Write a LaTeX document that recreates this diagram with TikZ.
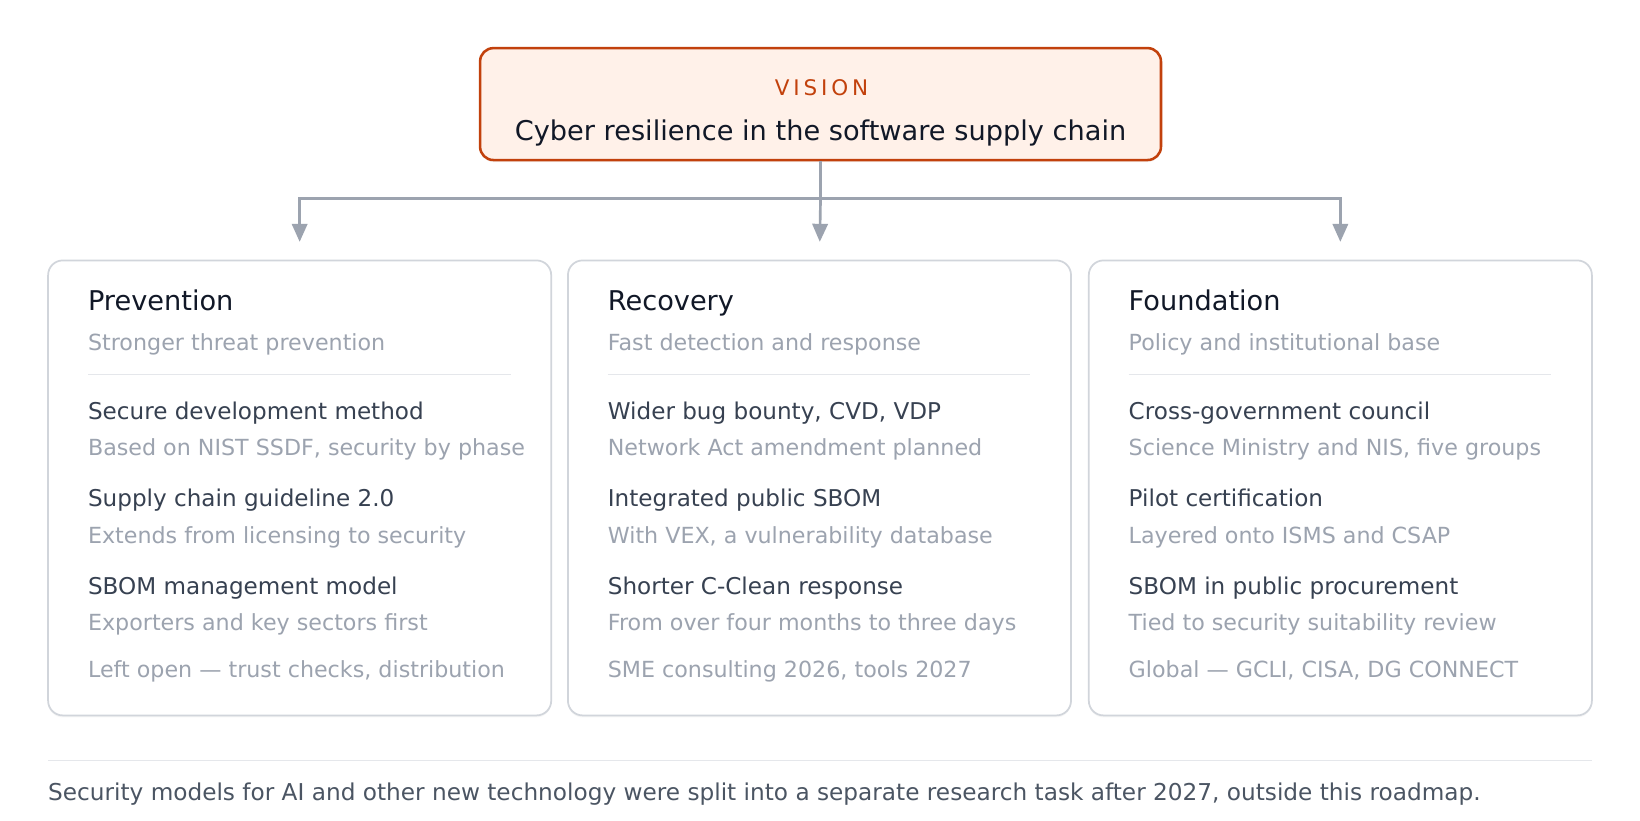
\documentclass[tikz,border=0pt]{standalone}
\usepackage{fontspec}
\setmainfont{DejaVu Sans}
\usetikzlibrary{arrows.meta,shadows}
\definecolor{orng}{HTML}{C2410C}
\definecolor{orngfill}{HTML}{FFF1E9}
\definecolor{ink}{HTML}{111827}
\definecolor{itemc}{HTML}{374151}
\definecolor{subc}{HTML}{9CA3AF}
\definecolor{connc}{HTML}{9CA3AF}
\definecolor{cardb}{HTML}{D1D5DB}
\definecolor{divc}{HTML}{E5E7EB}
\definecolor{footc}{HTML}{4B5563}
\newcommand{\fpx}[1]{\pgfmathsetlengthmacro\fszA{#1*0.75pt}\pgfmathsetlengthmacro\fszB{#1*0.9pt}\fontsize{\fszA}{\fszB}\selectfont}
\begin{document}
\begin{tikzpicture}[x=0.78443pt,y=-0.78443pt,
  visionbox/.style={draw=orng,line width=1.9pt,fill=orngfill,rounded corners=10pt,
     minimum width=651*0.78443pt,minimum height=107*0.78443pt,inner sep=0pt,
     drop shadow={opacity=0.08,shadow xshift=0pt,shadow yshift=-1.5pt}},
  cardbox/.style={draw=cardb,line width=1.3pt,fill=white,rounded corners=11pt,
     minimum width=481*0.78443pt,minimum height=435*0.78443pt,inner sep=0pt,
     drop shadow={opacity=0.07,shadow xshift=0pt,shadow yshift=-1.5pt}},
  conn/.style={draw=connc,line width=2pt},
  arr/.style={conn,-{Triangle[length=13.5pt,width=11.5pt]},shorten >=13.3pt},
  txt/.style={anchor=base west,inner sep=0pt,outer sep=0pt},
  ctitle/.style={txt,text=ink,font=\fpx{27.2}},
  csub/.style={txt,text=subc,font=\fpx{22.2}},
  citem/.style={txt,text=itemc,font=\fpx{23.1}},
  divline/.style={draw=divc,line width=1.1pt},
]
\useasboundingbox (0,0) rectangle (1568,784);
\fill[white] (0,0) rectangle (1568,784);

% vision
\node[visionbox] (vision) at (784.5,99.5) {};
\node[anchor=base,inner sep=0pt,text=orng,font={\fpx{21.5}\addfontfeature{LetterSpace=18}}] (vlabel) at (785.5,91) {VISION};
\node[anchor=base,inner sep=0pt,text=ink,font=\fpx{27.2}] (vtitle) at (784.5,134) {Cyber resilience in the software supply chain};

% cards
\node[cardbox] (c1) at (286.5,466.5) {};
\node[cardbox] (c2) at (783.5,466.5) {};
\node[cardbox] (c3) at (1281.5,466.5) {};

% connectors
\coordinate (j) at (784.5,190);
\draw[conn] (vision.south) -- (j);
\draw[arr] (j) -| (c1.north);
\draw[arr] (j) -- (c2.north);
\draw[arr] (j) -| (c3.north);

% card 1
\node[ctitle] (t1) at ([shift={(39,49)}]c1.north west) {Prevention};
\node[csub] (s1) at ([shift={(39,87)}]c1.north west) {Stronger threat prevention};
\coordinate (d1a) at ([shift={(39,110)}]c1.north west);
\coordinate (d1b) at ([shift={(443,110)}]c1.north west);
\draw[divline] (d1a) -- (d1b);
\node[citem] (i11) at ([shift={(39,153)}]c1.north west) {Secure development method};
\node[csub] (u11) at ([shift={(39,187)}]c1.north west) {Based on NIST SSDF, security by phase};
\node[citem] (i12) at ([shift={(39,236)}]c1.north west) {Supply chain guideline 2.0};
\node[csub] (u12) at ([shift={(39,271)}]c1.north west) {Extends from licensing to security};
\node[citem] (i13) at ([shift={(39,320)}]c1.north west) {SBOM management model};
\node[csub] (u13) at ([shift={(39,355)}]c1.north west) {Exporters and key sectors first};
\node[csub] (n1) at ([shift={(39,400)}]c1.north west) {Left open — trust checks, distribution};

% card 2
\node[ctitle] (t2) at ([shift={(39,49)}]c2.north west) {Recovery};
\node[csub] (s2) at ([shift={(39,87)}]c2.north west) {Fast detection and response};
\coordinate (d2a) at ([shift={(39,110)}]c2.north west);
\coordinate (d2b) at ([shift={(443,110)}]c2.north west);
\draw[divline] (d2a) -- (d2b);
\node[citem] (i21) at ([shift={(39,153)}]c2.north west) {Wider bug bounty, CVD, VDP};
\node[csub] (u21) at ([shift={(39,187)}]c2.north west) {Network Act amendment planned};
\node[citem] (i22) at ([shift={(39,236)}]c2.north west) {Integrated public SBOM};
\node[csub] (u22) at ([shift={(39,271)}]c2.north west) {With VEX, a vulnerability database};
\node[citem] (i23) at ([shift={(39,320)}]c2.north west) {Shorter C-Clean response};
\node[csub] (u23) at ([shift={(39,355)}]c2.north west) {From over four months to three days};
\node[csub] (n2) at ([shift={(39,400)}]c2.north west) {SME consulting 2026, tools 2027};

% card 3
\node[ctitle] (t3) at ([shift={(39,49)}]c3.north west) {Foundation};
\node[csub] (s3) at ([shift={(39,87)}]c3.north west) {Policy and institutional base};
\coordinate (d3a) at ([shift={(39,110)}]c3.north west);
\coordinate (d3b) at ([shift={(443,110)}]c3.north west);
\draw[divline] (d3a) -- (d3b);
\node[citem] (i31) at ([shift={(39,153)}]c3.north west) {Cross-government council};
\node[csub] (u31) at ([shift={(39,187)}]c3.north west) {Science Ministry and NIS, five groups};
\node[citem] (i32) at ([shift={(39,236)}]c3.north west) {Pilot certification};
\node[csub] (u32) at ([shift={(39,271)}]c3.north west) {Layered onto ISMS and CSAP};
\node[citem] (i33) at ([shift={(39,320)}]c3.north west) {SBOM in public procurement};
\node[csub] (u33) at ([shift={(39,355)}]c3.north west) {Tied to security suitability review};
\node[csub] (n3) at ([shift={(39,400)}]c3.north west) {Global — GCLI, CISA, DG CONNECT};

% footer
\coordinate (fa) at (46,727);
\coordinate (fb) at (1522,727);
\draw[divline,line width=1.2pt] (fa) -- (fb);
\node[txt,text=footc,font=\fpx{23.2}] (foot) at (46,765) {Security models for AI and other new technology were split into a separate research task after 2027, outside this roadmap.};
\end{tikzpicture}
\end{document}
